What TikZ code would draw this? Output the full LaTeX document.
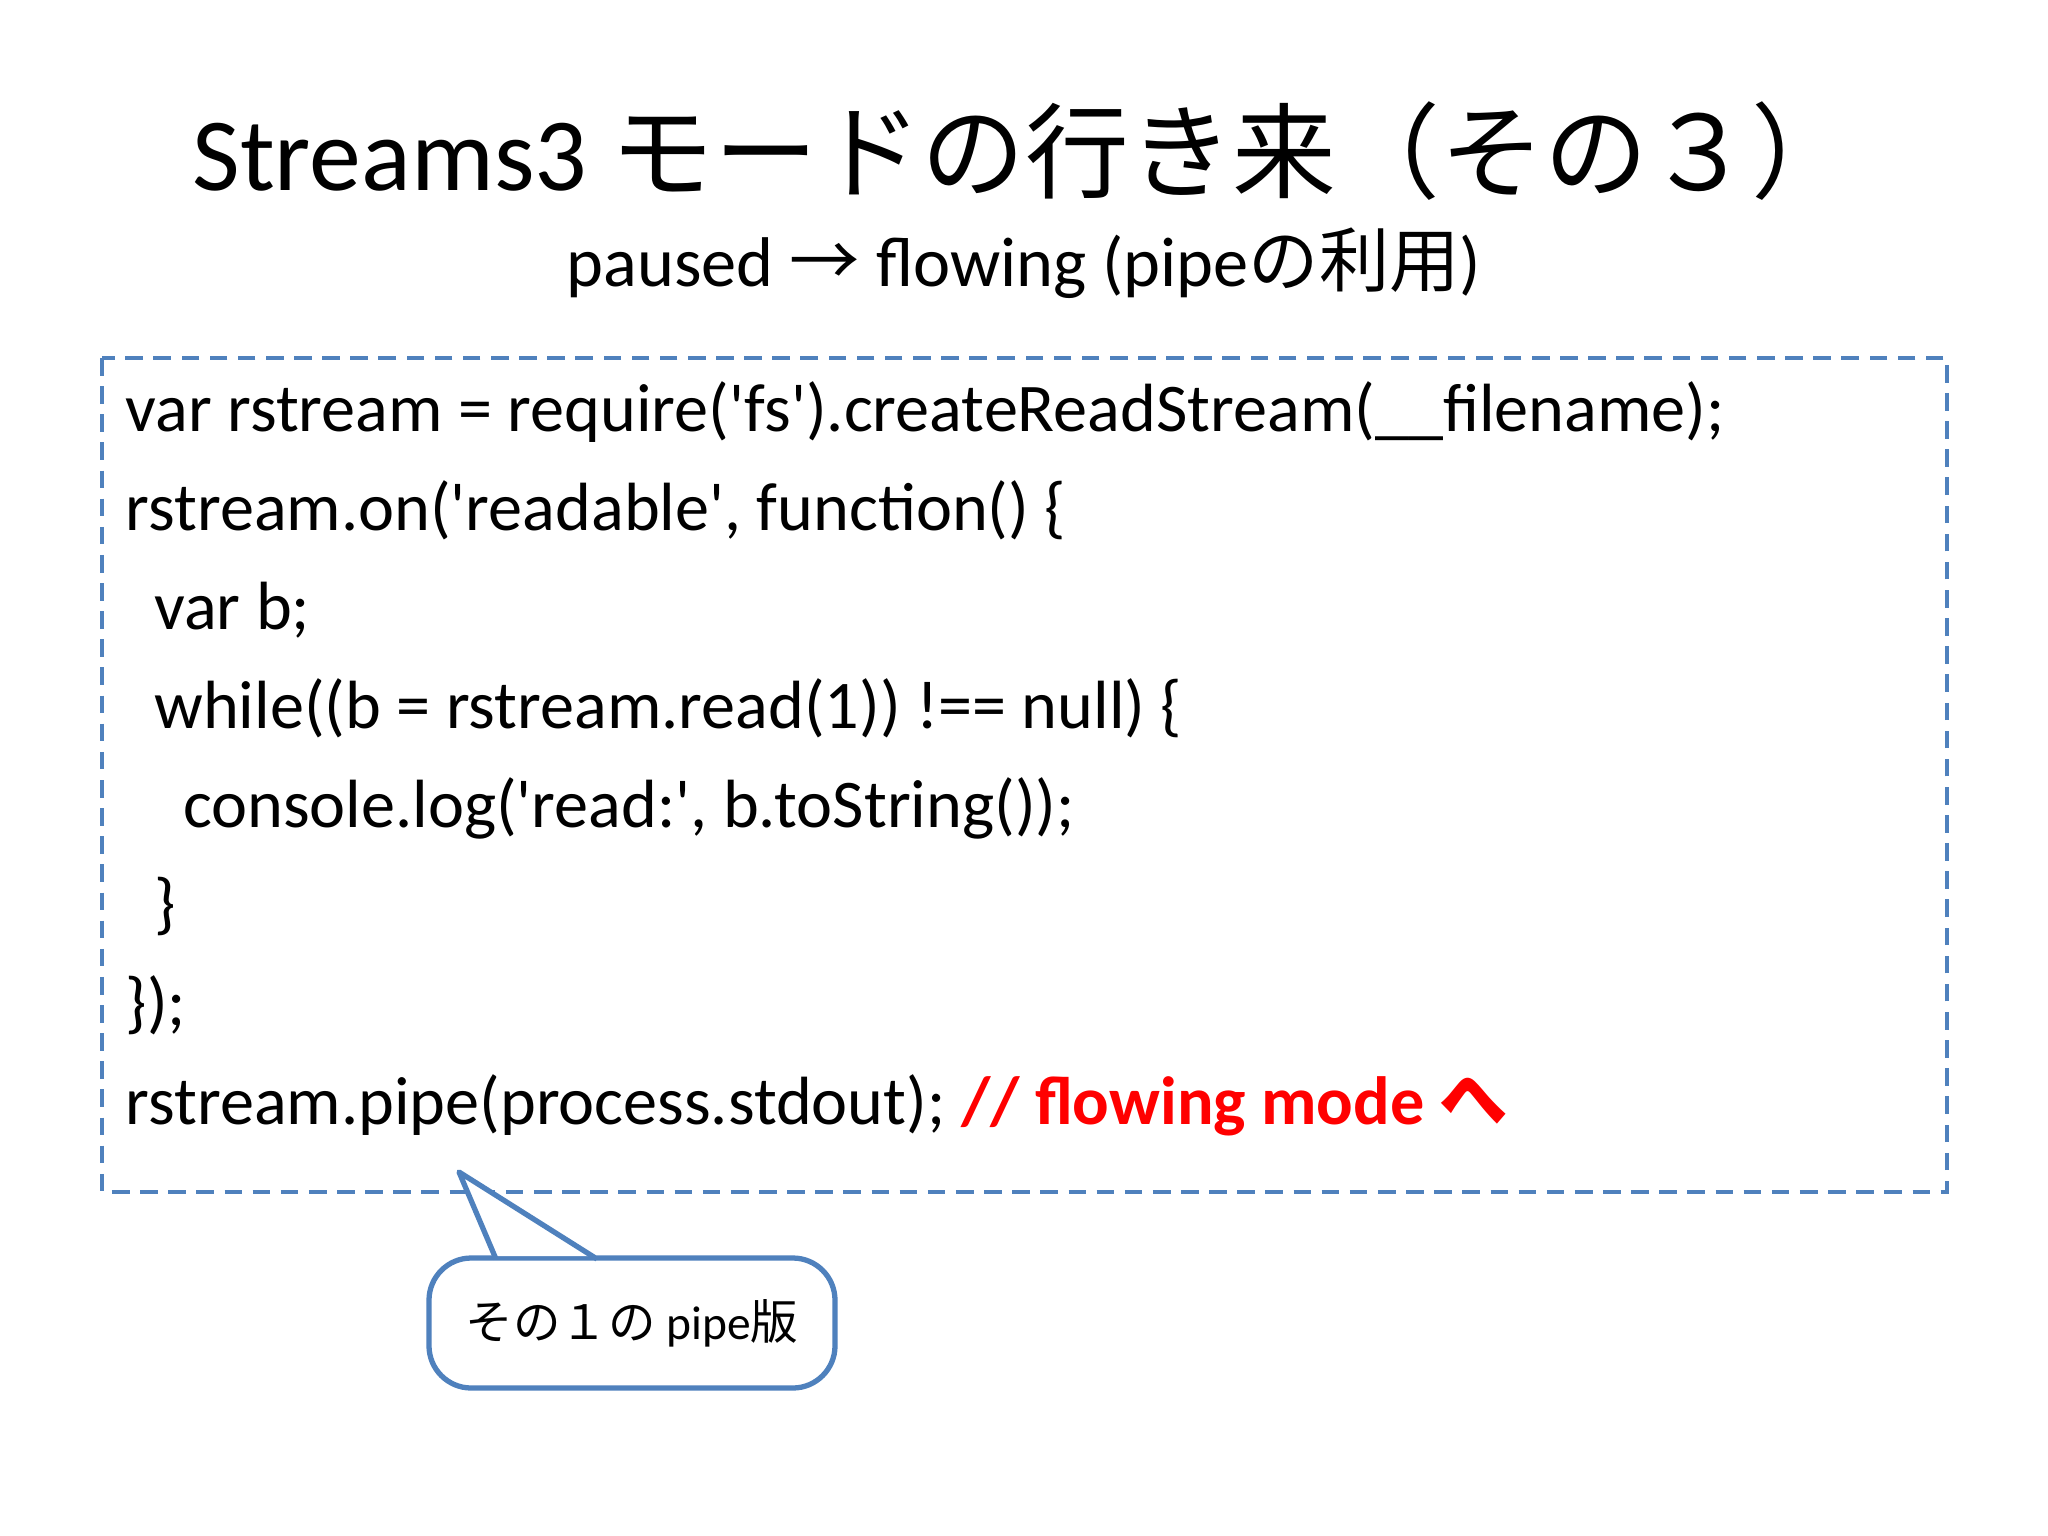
\documentclass[tikz,border=0pt]{standalone}
\usepackage{fontspec}
\setmainfont{Carlito}[Ligatures=TeXOff]
\newfontfamily\cjk{Noto Sans CJK JP}
\definecolor{dblue}{RGB}{79,129,189}
\definecolor{cred}{RGB}{255,0,0}
\begin{document}
\begin{tikzpicture}[x=0.01cm,y=-0.01cm,
 code/.style={anchor=base west,inner sep=0,font=\fontsize{19.4}{22}\selectfont}]
\useasboundingbox[fill=white] (0,0) rectangle (2048,1536);
\node[font=\fontsize{29.5}{34}\selectfont] (title) at (1024,151) {Streams3 {\cjk モードの行き来（その３）}};
\node[font=\fontsize{20}{24}\selectfont] (sub) at (1024,263) {paused {\cjk →} flowing (pipe{\cjk の利用})};
\draw[dblue,line width=1.2pt,dash pattern=on 5pt off 3pt] (102,358) rectangle (1947,1192);
\foreach \i/\t in {0/{var rstream = require('fs').createReadStream(\_\_filename);},
 1/{rstream.on('readable', function() \{},
 2/{\hspace*{0.42em}var b;},
 3/{\hspace*{0.42em}while((b = rstream.read(1)) !== null) \{},
 4/{\hspace*{0.84em}console.log('read:', b.toString());},
 5/{\hspace*{0.42em}\}},
 6/{\});}}
 \node[code] (l\i) at (125,431+\i*99) {\t};
\node[code] (l7) at (125,1124) {rstream.pipe(process.stdout); \textcolor{cred}{\textbf{// flowing mode {\cjk へ}}}};
\draw[dblue,line width=1.5pt,fill=white,rounded corners=12pt] (429,1258) rectangle (835,1388);
\coordinate (tip) at (459,1172);
\fill[white] (496,1256) -- (tip) -- (597,1256) -- cycle;
\draw[dblue,line width=1.5pt,line join=round] (496,1259) -- (tip) -- (597,1259);
\node[font=\fontsize{13.5}{16}\selectfont] (call) at (632,1323) {{\cjk その１の} pipe{\cjk 版}};
\end{tikzpicture}
\end{document}
